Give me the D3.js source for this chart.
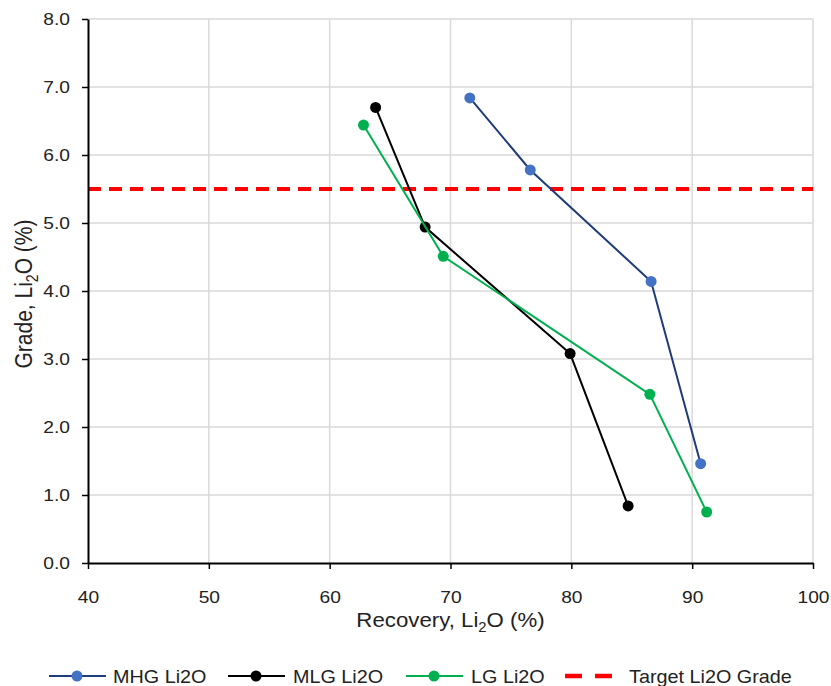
<!DOCTYPE html>
<html>
<head>
<meta charset="utf-8">
<script src="https://cdn.jsdelivr.net/npm/d3@7"></script>
<style>
  body { margin: 0; background: #fff; }
  svg { font-family: "Liberation Sans", Arial, sans-serif; }
</style>
</head>
<body>
<svg id="chart" width="831" height="686"></svg>
<script>
// series values
var mhgRecovery = [71.6, 76.6, 86.6, 90.7];
var mhgGrade    = [6.84, 5.78, 4.14, 1.46];
var mlgRecovery = [63.8, 67.9, 79.9, 84.7];
var mlgGrade    = [6.70, 4.94, 3.08, 0.84];
var lgRecovery  = [62.8, 69.4, 86.5, 91.2];
var lgGrade     = [6.44, 4.51, 2.48, 0.75];
var targetGrade = 5.5;

var xTicks = [40, 50, 60, 70, 80, 90, 100];
var yTicks = [0, 1, 2, 3, 4, 5, 6, 7, 8];

var series = [
  { name: 'MHG Li2O', x: mhgRecovery, y: mhgGrade, line: '#1f3b7a', marker: '#4472c4' },
  { name: 'MLG Li2O', x: mlgRecovery, y: mlgGrade, line: '#000000', marker: '#000000' },
  { name: 'LG Li2O',  x: lgRecovery,  y: lgGrade,  line: '#00b050', marker: '#00b050' }
];

var svg = d3.select('#chart');
var margin = { left: 88, top: 19, right: 18, bottom: 123 };
var width = 831 - margin.left - margin.right;
var height = 686 - margin.top - margin.bottom;

var x = d3.scaleLinear().domain([40, 100]).range([0, width]);
var y = d3.scaleLinear().domain([0, 8]).range([height, 0]);

var g = svg.append('g').attr('transform', 'translate(' + margin.left + ',' + margin.top + ')');

// gridlines
g.selectAll('line.gx').data(xTicks.slice(1)).enter().append('line')
  .attr('x1', function(d) { return x(d); }).attr('x2', function(d) { return x(d); })
  .attr('y1', 0).attr('y2', height)
  .attr('stroke', '#d9d9d9').attr('stroke-width', 1.5);
g.selectAll('line.gy').data(yTicks.slice(1)).enter().append('line')
  .attr('x1', 0).attr('x2', width)
  .attr('y1', function(d) { return y(d); }).attr('y2', function(d) { return y(d); })
  .attr('stroke', '#d9d9d9').attr('stroke-width', 1.5);

// target grade
g.append('line')
  .attr('x1', 0).attr('x2', width)
  .attr('y1', y(targetGrade)).attr('y2', y(targetGrade))
  .attr('stroke', '#ff0000').attr('stroke-width', 4)
  .attr('stroke-dasharray', '13,8');

// axes
var xAxis = g.append('g').attr('transform', 'translate(0,' + height + ')')
  .call(d3.axisBottom(x).tickValues(xTicks).tickSize(6).tickSizeOuter(0).tickFormat(d3.format('d')));
var yAxis = g.append('g')
  .call(d3.axisLeft(y).tickValues(yTicks).tickSize(6).tickSizeOuter(0).tickFormat(d3.format('.1f')));

[xAxis, yAxis].forEach(function(a) {
  a.select('.domain').attr('stroke', '#000').attr('stroke-width', 2);
  a.selectAll('.tick line').attr('stroke', '#000').attr('stroke-width', 1.5);
  a.selectAll('.tick text').attr('fill', '#222').attr('dy', null)
    .style('font-size', '16px')
    .style('font-family', '"Liberation Sans", Arial, sans-serif');
});
// the picture is a little wider than tall, so stretch the text a bit
xAxis.selectAll('.tick text').attr('y', 0).attr('transform', 'translate(0,40) scale(1.2,1)');
yAxis.selectAll('.tick text').attr('x', 0).attr('transform', 'translate(-18,5.5) scale(1.2,1)');

// series
var line = d3.line()
  .x(function(d) { return x(d[0]); })
  .y(function(d) { return y(d[1]); });

series.forEach(function(s) {
  var pts = s.x.map(function(v, i) { return [v, s.y[i]]; });
  g.append('path').datum(pts)
    .attr('d', line).attr('fill', 'none')
    .attr('stroke', s.line).attr('stroke-width', 2);
  g.selectAll(null).data(pts).enter().append('circle')
    .attr('cx', function(d) { return x(d[0]); })
    .attr('cy', function(d) { return y(d[1]); })
    .attr('r', 5.5).attr('fill', s.marker);
});

// axis titles
var xt = svg.append('text')
  .attr('transform', 'translate(' + (margin.left + width / 2) + ',627) scale(1.06,1)')
  .attr('text-anchor', 'middle').attr('fill', '#222').style('font-size', '21px');
xt.append('tspan').text('Recovery, Li');
xt.append('tspan').attr('dy', 5).style('font-size', '14px').text('2');
xt.append('tspan').attr('dy', -5).text('O (%)');

var yt = svg.append('text')
  .attr('transform', 'translate(32,294) scale(1.12,1) rotate(-90)')
  .attr('text-anchor', 'middle').attr('fill', '#222').style('font-size', '21px');
yt.append('tspan').text('Grade, Li');
yt.append('tspan').attr('dy', 5).style('font-size', '14px').text('2');
yt.append('tspan').attr('dy', -5).text('O (%)');

// legend
var legendY = 676;
var legendItems = [
  { s: series[0], x0: 49, tx: 113 },
  { s: series[1], x0: 228, tx: 293 },
  { s: series[2], x0: 406, tx: 471 }
];
legendItems.forEach(function(it) {
  svg.append('line')
    .attr('x1', it.x0).attr('x2', it.x0 + 57)
    .attr('y1', legendY).attr('y2', legendY)
    .attr('stroke', it.s.line).attr('stroke-width', 2);
  svg.append('circle')
    .attr('cx', it.x0 + 28).attr('cy', legendY).attr('r', 5.5).attr('fill', it.s.marker);
  svg.append('text')
    .attr('transform', 'translate(' + it.tx + ',' + (legendY + 6.5) + ') scale(1.1,1)')
    .attr('fill', '#222').style('font-size', '18px').text(it.s.name);
});
svg.append('line')
  .attr('x1', 565).attr('x2', 612)
  .attr('y1', legendY).attr('y2', legendY)
  .attr('stroke', '#ff0000').attr('stroke-width', 4.5).attr('stroke-dasharray', '17,13');
svg.append('text')
  .attr('transform', 'translate(629,' + (legendY + 6.5) + ') scale(1.1,1)')
  .attr('fill', '#222').style('font-size', '18px').text('Target Li2O Grade');
</script>
</body>
</html>
